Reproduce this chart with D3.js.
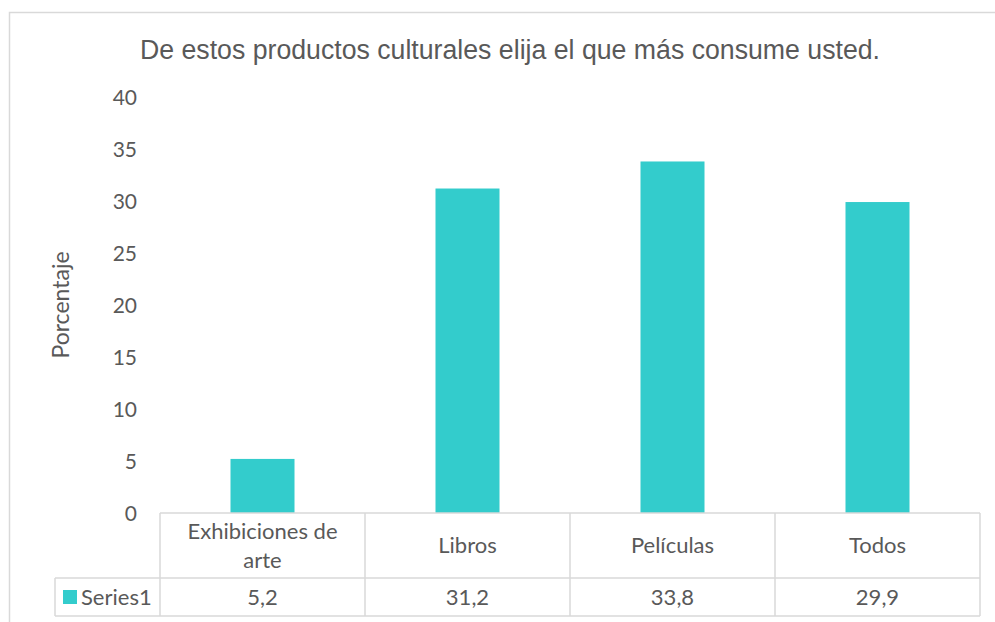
<!DOCTYPE html>
<html><head><meta charset="utf-8">
<script src="https://cdn.jsdelivr.net/npm/d3@7"></script>
<style>body{margin:0;background:#fff}svg{display:block}</style>
</head><body>
<svg id="chart" width="995" height="622"></svg>
<script>
const categories = ["Exhibiciones de arte", "Libros", "Películas", "Todos"];
const categoryLines = [["Exhibiciones de", "arte"], ["Libros"], ["Películas"], ["Todos"]];
const seriesName = "Series1";
const values = [5.2, 31.2, 33.8, 29.9];
const valueLabels = ["5,2", "31,2", "33,8", "29,9"];
const yTicks = [0, 5, 10, 15, 20, 25, 30, 35, 40];
const title = "De estos productos culturales elija el que más consume usted.";
const yTitle = "Porcentaje";

(function () {
const svg = d3.select("#chart");
const txt = "#595959", grid = "#d9d9d9", barColor = "#33CCCC";
const fontBody = "Lato, 'Open Sans', sans-serif";

// outer border
svg.append("rect").attr("x", 9.5).attr("y", 12.5).attr("width", 1000).attr("height", 700)
  .attr("fill", "#fff").attr("stroke", "#d9d9d9").attr("stroke-width", 1.5);

const pLeft = 160, pRight = 980, pTop = 97, pBottom = 513;
const x = d3.scaleBand().domain(categories).range([pLeft, pRight]).paddingInner(0).paddingOuter(0);
const y = d3.scaleLinear().domain([0, 40]).range([pBottom, pTop]);

svg.append("text").attr("x", 510).attr("y", 59).attr("text-anchor", "middle")
  .attr("font-family", "'Liberation Sans Narrow', 'Liberation Sans', Arial, sans-serif").attr("font-size", 27)
  .attr("textLength", 740).attr("lengthAdjust", "spacingAndGlyphs")
  .attr("fill", txt).text(title);

// y axis labels
const yAxis = d3.axisLeft(y).tickValues(yTicks).tickSize(0).tickPadding(0);
const ga = svg.append("g").attr("transform", `translate(137,0)`).call(yAxis);
ga.select(".domain").remove();
ga.selectAll("text").attr("font-family", fontBody).attr("font-size", 21).attr("fill", txt)
  .attr("text-anchor", "end").attr("dy", "0.35em");

svg.append("text").attr("transform", `translate(61,305) rotate(-90)`).attr("text-anchor", "middle")
  .attr("dy", "0.35em").attr("font-family", fontBody).attr("font-size", 23)
  .attr("fill", txt).text(yTitle);

// bars
const barW = 64;
svg.append("g").selectAll("rect").data(values).join("rect")
  .attr("x", (d, i) => x(categories[i]) + x.bandwidth() / 2 - barW / 2)
  .attr("width", barW)
  .attr("y", d => y(d)).attr("height", d => y(0) - y(d))
  .attr("fill", barColor);

// data table
const rowMid = 578, tableBottom = 616, tableLeft = 55;
const g = svg.append("g").attr("stroke", grid).attr("stroke-width", 1.5).attr("fill", "none");
g.append("line").attr("x1", pLeft).attr("x2", pRight).attr("y1", pBottom).attr("y2", pBottom);
g.append("line").attr("x1", tableLeft).attr("x2", pRight).attr("y1", rowMid).attr("y2", rowMid);
g.append("line").attr("x1", tableLeft).attr("x2", pRight).attr("y1", tableBottom).attr("y2", tableBottom);
g.append("line").attr("x1", tableLeft).attr("x2", tableLeft).attr("y1", rowMid).attr("y2", tableBottom);
[...categories.map(c => x(c)), pRight].forEach(xv => {
  g.append("line").attr("x1", xv).attr("x2", xv).attr("y1", pBottom).attr("y2", tableBottom);
});

// category labels
const fs = 22;
categories.forEach((c, i) => {
  const lines = categoryLines[i];
  const cx = x(c) + x.bandwidth() / 2;
  const cy = (pBottom + rowMid) / 2;
  const lh = 29;
  lines.forEach((l, j) => {
    svg.append("text").attr("x", cx).attr("y", cy + (j - (lines.length - 1) / 2) * lh)
      .attr("dy", "0.35em").attr("text-anchor", "middle")
      .attr("font-family", fontBody).attr("font-size", fs).attr("fill", txt).text(l);
  });
  svg.append("text").attr("x", cx).attr("y", (rowMid + tableBottom) / 2).attr("dy", "0.35em")
    .attr("text-anchor", "middle").attr("font-family", fontBody).attr("font-size", fs)
    .attr("fill", txt).text(valueLabels[i]);
});

// legend key
svg.append("rect").attr("x", 63).attr("y", 590).attr("width", 14).attr("height", 14).attr("fill", barColor);
svg.append("text").attr("x", 81).attr("y", (rowMid + tableBottom) / 2).attr("dy", "0.35em")
  .attr("font-family", fontBody).attr("font-size", fs).attr("fill", txt).text(seriesName);
})();
</script>
</body></html>
